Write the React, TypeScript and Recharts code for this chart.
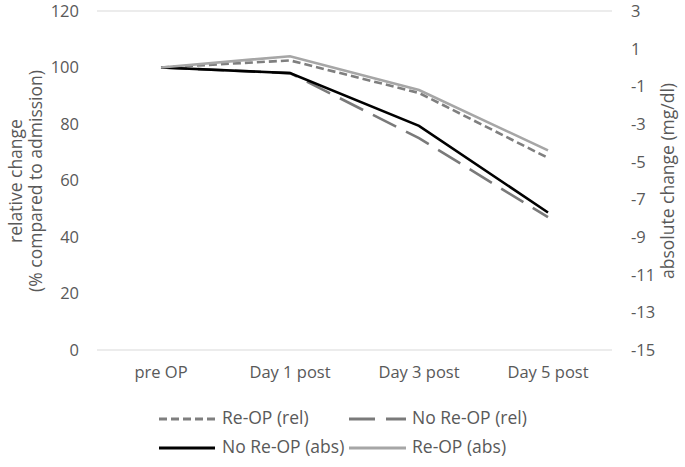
import React from 'react';
import { LineChart, Line, XAxis, YAxis, CartesianGrid, Legend } from 'recharts';

const categories = ['pre OP', 'Day 1 post', 'Day 3 post', 'Day 5 post'];
const reOpRel = [100, 102.5, 91, 68];
const noReOpRel = [100, 98, 75, 47];
const noReOpAbs = [0, -0.3, -3.1, -7.7];
const reOpAbs = [0, 0.6, -1.2, -4.4];
const leftTicks = [0, 20, 40, 60, 80, 100, 120];
const rightTicks = [3, 1, -1, -3, -5, -7, -9, -11, -13, -15];

const data = categories.map((name, i) => ({
  name,
  reOpRel: reOpRel[i],
  noReOpRel: noReOpRel[i],
  noReOpAbs: noReOpAbs[i],
  reOpAbs: reOpAbs[i],
}));

const FONT = 'Open Sans, sans-serif';
const TEXT = '#595959';

const series = [
  { key: 'reOpRel', name: 'Re-OP (rel)', color: '#7f7f7f', dash: '8 4', axis: 'left' },
  { key: 'noReOpRel', name: 'No Re-OP (rel)', color: '#7a7a7a', dash: '26 11', axis: 'left' },
  { key: 'noReOpAbs', name: 'No Re-OP (abs)', color: '#000000', dash: undefined, axis: 'right' },
  { key: 'reOpAbs', name: 'Re-OP (abs)', color: '#a6a6a6', dash: undefined, axis: 'right' },
];

const LeftLabel = () => (
  <g fontFamily={FONT} fontSize={17.5} fill={TEXT}>
    <text x={17} y={181} transform="rotate(-90 17 181)" textAnchor="middle" dominantBaseline="middle">
      relative change
    </text>
    <text x={37} y={181} transform="rotate(-90 37 181)" textAnchor="middle" dominantBaseline="middle">
      (% compared to admission)
    </text>
  </g>
);

const RightLabel = () => (
  <text
    x={669}
    y={181}
    transform="rotate(-90 669 181)"
    textAnchor="middle"
    dominantBaseline="middle"
    fontFamily={FONT}
    fontSize={17.5}
    fill={TEXT}
  >
    absolute change (mg/dl)
  </text>
);

const legendPos = [
  { x1: 159, x2: 215, tx: 222, y: 14 },
  { x1: 349, x2: 406, tx: 412, y: 14 },
  { x1: 159, x2: 215, tx: 222, y: 43 },
  { x1: 349, x2: 406, tx: 412, y: 43 },
];

const renderLegend = () => (
  <svg width={685} height={60}>
    {series.map((s, i) => {
      const p = legendPos[i];
      return (
        <g key={s.key}>
          <line x1={p.x1} x2={p.x2} y1={p.y} y2={p.y} stroke={s.color} strokeWidth={3} strokeDasharray={s.dash} />
          <text x={p.tx} y={p.y} dominantBaseline="middle" fontFamily={FONT} fontSize={17.5} fill={TEXT}>
            {s.name}
          </text>
        </g>
      );
    })}
  </svg>
);

export default function App() {
  return (
    <div style={{ position: 'absolute', left: 0, top: 0, background: '#fff' }}>
      <LineChart width={685} height={467} data={data} margin={{ top: 11, right: 0, bottom: 17, left: 0 }}>
        <CartesianGrid vertical={false} stroke="#d9d9d9" strokeWidth={1.2} />
        <XAxis
          dataKey="name"
          axisLine={false}
          tickLine={false}
          tickSize={0}
          tickMargin={16}
          height={40}
          padding={{ left: 64, right: 64 }}
          tick={{ fontFamily: FONT, fontSize: 16.5, fill: TEXT }}
        />
        <YAxis
          yAxisId="left"
          domain={[0, 120]}
          ticks={leftTicks}
          interval={0}
          width={97}
          axisLine={false}
          tickLine={false}
          tickSize={0}
          tickMargin={18}
          tick={{ fontFamily: FONT, fontSize: 16.5, fill: TEXT }}
          label={<LeftLabel />}
        />
        <YAxis
          yAxisId="right"
          orientation="right"
          domain={[-15, 3]}
          ticks={rightTicks}
          interval={0}
          width={73}
          axisLine={false}
          tickLine={false}
          tickSize={0}
          tickMargin={19}
          tick={{ fontFamily: FONT, fontSize: 16.5, fill: TEXT }}
          label={<RightLabel />}
        />
        <Legend
          content={renderLegend}
          wrapperStyle={{ position: 'absolute', top: 405, left: 0, width: 685, height: 60 }}
        />
        {series.map((s) => (
          <Line
            key={s.key}
            yAxisId={s.axis}
            dataKey={s.key}
            name={s.name}
            stroke={s.color}
            strokeWidth={2.6}
            strokeDasharray={s.dash}
            dot={false}
            activeDot={false}
            isAnimationActive={false}
          />
        ))}
      </LineChart>
    </div>
  );
}
